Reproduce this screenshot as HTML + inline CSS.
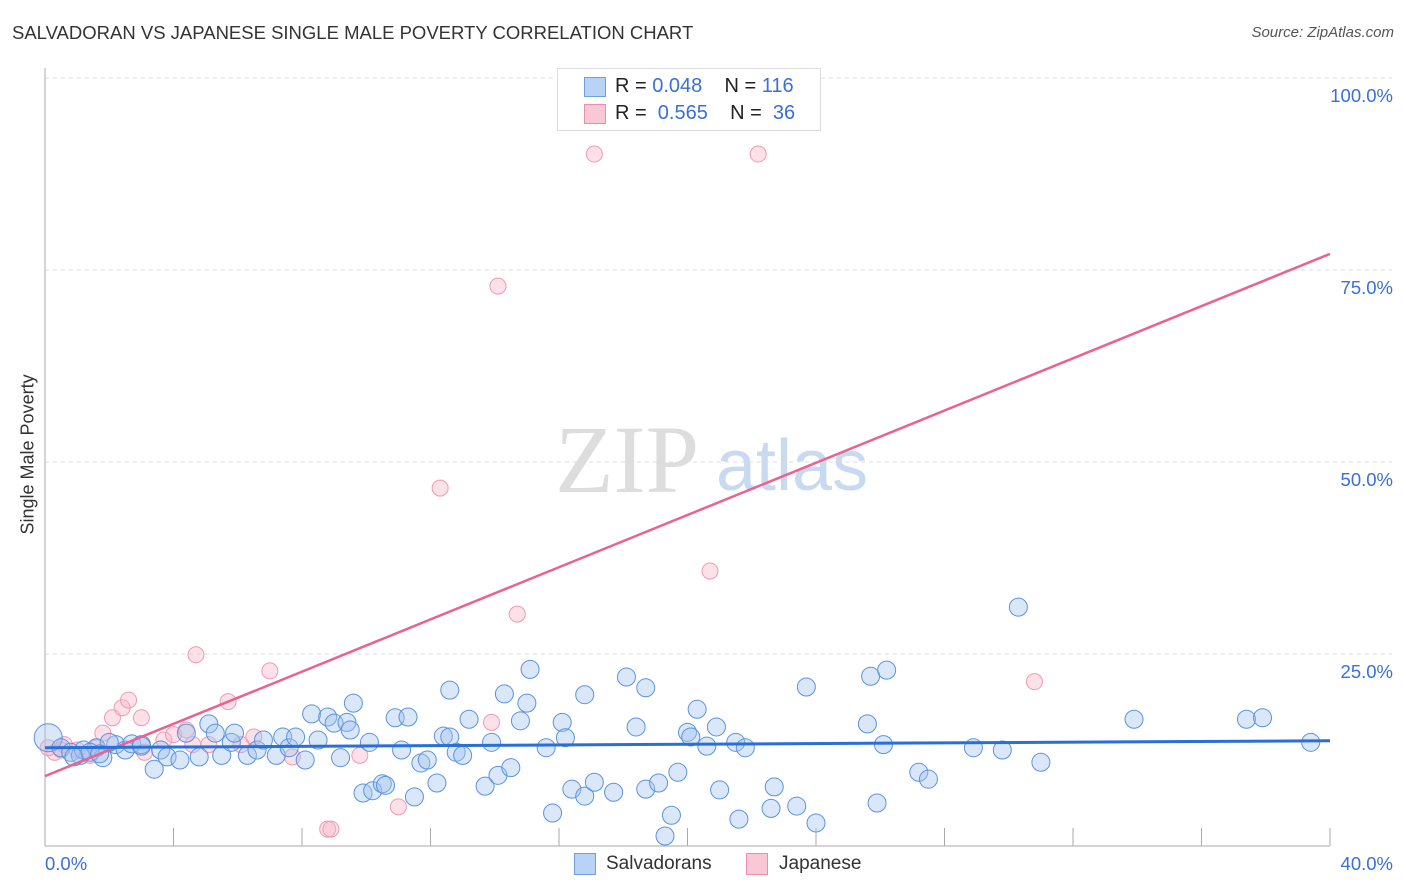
<!DOCTYPE html>
<html><head><meta charset="utf-8">
<style>
body{margin:0;background:#fff;font-family:"Liberation Sans",sans-serif;}
#wrap{position:relative;width:1406px;height:892px;overflow:hidden;}
.t{position:absolute;white-space:nowrap;}
</style></head>
<body>
<div id="wrap">
<div class="t" style="left:12px;top:22px;font-size:18.5px;color:#333;">SALVADORAN VS JAPANESE SINGLE MALE POVERTY CORRELATION CHART</div>
<div class="t" style="right:12px;top:24px;font-size:15px;color:#555;font-style:italic;">Source: ZipAtlas.com</div>
<div class="t" style="left:-52px;top:444px;font-size:18px;color:#333;transform:rotate(-90deg);transform-origin:center;width:160px;text-align:center;">Single Male Poverty</div>
<svg id="svg" width="1406" height="892" style="position:absolute;left:0;top:0">
<text x="555" y="492" font-family="Liberation Serif,serif" font-size="96" fill="#ddd">ZIP</text>
<text x="716" y="490" font-family="Liberation Sans,sans-serif" font-size="72" fill="#c9daf0">atlas</text>
</svg>
<div style="position:absolute;left:557px;top:68px;width:262px;height:61px;border:1px solid #ddd;background:#fff;">
<div style="position:absolute;left:26px;top:8px;width:20px;height:18px;background:#b8d3f5;border:1px solid #6f9fe0;"></div>
<div style="position:absolute;left:26px;top:35px;width:20px;height:18px;background:#f9c8d6;border:1px solid #ea8fab;"></div>
<div class="t" style="left:57px;top:6px;font-size:20px;color:#222;">R = <span style="color:#3a6fd8">0.048</span>&nbsp;&nbsp;&nbsp; N = <span style="color:#3a6fd8">116</span></div>
<div class="t" style="left:57px;top:33px;font-size:20px;color:#222;">R = &nbsp;<span style="color:#3a6fd8">0.565</span>&nbsp;&nbsp;&nbsp; N = &nbsp;<span style="color:#3a6fd8">36</span></div>
</div>
<div style="position:absolute;left:574px;top:853px;width:20px;height:20px;background:#b8d3f5;border:1px solid #6f9fe0;"></div>
<div class="t" style="left:606px;top:853px;font-size:19px;color:#333;">Salvadorans</div>
<div style="position:absolute;left:746px;top:853px;width:20px;height:20px;background:#f9c8d6;border:1px solid #ea8fab;"></div>
<div class="t" style="left:779px;top:853px;font-size:19px;color:#333;">Japanese</div>
</div>
<script>
const blueX=[0.1,0.5,0.8,1.1,1.2,1.6,1.8,2.2,2.5,2.7,3.0,3.4,3.6,3.8,4.2,4.4,4.8,5.1,5.3,5.5,5.8,5.9,6.3,6.6,6.8,7.2,7.4,7.6,7.8,8.1,8.3,8.5,8.8,9.0,9.4,9.6,9.2,9.9,10.1,10.2,10.5,10.6,10.9,11.1,11.3,11.5,11.7,11.9,12.2,12.4,12.6,12.8,13.0,13.2,13.7,13.9,14.1,14.3,14.5,14.8,15.0,15.1,15.6,15.8,16.1,16.2,16.4,16.8,16.8,17.1,17.7,18.1,18.4,18.7,18.7,19.1,19.7,20.0,20.1,19.3,19.5,20.3,20.6,20.9,21.0,21.5,21.6,21.8,22.6,22.7,23.4,23.7,24.0,25.6,25.7,25.9,26.1,26.2,27.2,27.5,28.9,29.8,30.3,31.0,33.9,37.4,37.9,39.4,3.0,2.0,0.9,1.4,1.7,12.6,9.5];
const blueY=[14.1,12.8,12.2,11.8,12.5,12.8,11.5,13.2,12.5,13.3,13.2,10.0,12.5,11.6,11.2,14.7,11.6,15.9,14.7,11.8,13.5,14.7,11.8,12.5,13.8,11.8,14.2,12.8,14.2,11.2,17.2,13.8,16.8,16.0,16.1,18.6,11.5,6.9,13.5,7.2,8.1,7.9,16.7,12.5,16.8,6.4,10.8,11.2,8.2,14.3,20.3,12.2,11.8,16.5,7.8,13.5,9.2,19.8,10.2,16.3,18.6,23.0,12.8,4.3,16.1,14.1,7.4,19.7,6.5,8.3,7.0,22.0,15.5,20.6,7.4,8.2,9.6,14.8,14.2,1.3,4.0,17.8,13.0,15.5,7.3,13.5,3.5,12.8,4.9,7.7,5.2,20.7,3.0,15.9,22.1,5.6,13.2,22.9,9.6,8.7,12.8,12.5,31.1,10.9,16.5,16.5,16.7,13.5,13.0,13.5,11.6,12.2,12.0,14.2,15.1];
const pinkX=[0.3,0.6,1.0,1.6,1.8,2.1,2.4,2.6,3.0,3.1,3.7,4.0,4.4,4.6,4.7,5.1,5.7,6.1,6.5,7.0,7.7,8.8,8.9,9.8,11.0,12.3,13.9,14.1,14.7,17.1,20.7,22.2,30.8,0.5,1.4,0.1];
const pinkY=[12.2,13.2,12.5,12.8,14.7,16.7,18.0,19.0,16.7,12.2,13.8,14.5,15.1,13.2,24.9,13.2,18.8,13.2,14.2,22.8,11.6,2.2,2.2,11.8,5.1,46.6,16.1,72.9,30.2,90.1,35.8,90.1,21.4,12.5,11.8,12.8];
const blueLine=[12.8,13.7];
const pinkLine=[9.1,77.1];
const xTicks=["0.0%","40.0%"];
const yTicks=[25,50,75,100];
const yTickLabels=["25.0%","50.0%","75.0%","100.0%"];

const NS="http://www.w3.org/2000/svg";
const svg=document.getElementById('svg');
const X0=45,X1=1330,Y0=846,YP=7.68;
const sx=v=>X0+(v/40)*(X1-X0);
const sy=v=>Y0-v*YP;
function mk(tag,attrs){const e=document.createElementNS(NS,tag);for(const k in attrs)e.setAttribute(k,attrs[k]);svg.appendChild(e);return e;}
yTicks.forEach((t,i)=>{
 const g=mk('line',{x1:X0,x2:1392,y1:sy(t),y2:sy(t),stroke:'#ddd','stroke-dasharray':'4,4'});
 
 
 const tx=mk('text',{x:1393,y:sy(t)+24,'text-anchor':'end','font-size':18.5,fill:'#3a6fd8','font-family':'Liberation Sans,sans-serif'});
 tx.textContent=yTickLabels[i];
 
 
});
const ax=mk('line',{x1:X0,x2:X0,y1:68,y2:Y0,stroke:'#aaa'});


const bx=mk('line',{x1:X0,x2:X1,y1:Y0,y2:Y0,stroke:'#aaa'});


for(let i=1;i<=10;i++){
 const tk=mk('line',{x1:sx(i*4),x2:sx(i*4),y1:828,y2:Y0,stroke:'#aaa'});
 
 
}
[[0,'start',45],[40,'end',1393]].forEach((d,i)=>{
 const tx=mk('text',{x:d[2],y:870,'text-anchor':d[1],'font-size':18.5,fill:'#3a6fd8','font-family':'Liberation Sans,sans-serif'});
 tx.textContent=xTicks[i];
 
 
});
pinkX.forEach((x,i)=>{
 const c=mk('circle',{cx:sx(x),cy:sy(pinkY[i]),r:8,fill:'rgba(248,180,200,0.4)',stroke:'#ef9ab4','stroke-width':1});
 
 
});
blueX.forEach((x,i)=>{
 const c=mk('circle',{cx:sx(x),cy:sy(blueY[i]),r:i===0?14:9,fill:'rgba(160,196,240,0.4)',stroke:'#5b93de','stroke-width':1});
 
 
});
const pl=mk('line',{x1:sx(0),y1:sy(pinkLine[0]),x2:sx(40),y2:sy(pinkLine[1]),stroke:'#e8638f','stroke-width':2.5});


const bl=mk('line',{x1:sx(0),y1:sy(blueLine[0]),x2:sx(40),y2:sy(blueLine[1]),stroke:'#2a6fd6','stroke-width':3});


</script>
</body></html>
